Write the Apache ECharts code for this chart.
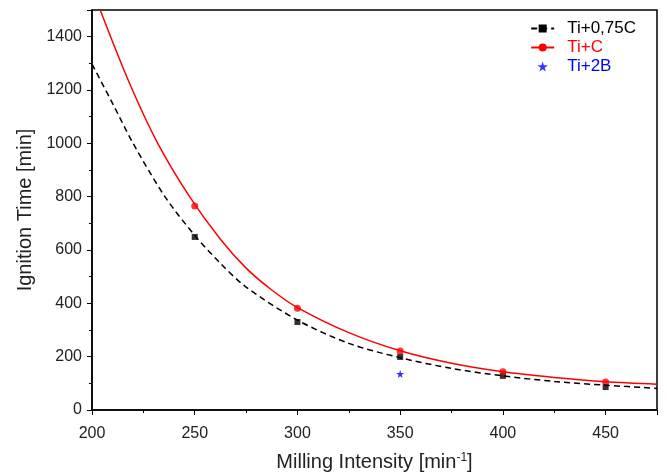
<!DOCTYPE html>
<html>
<head>
<meta charset="utf-8">
<script src="https://cdn.jsdelivr.net/npm/echarts@6/dist/echarts.min.js"></script>
<style>
html, body { margin: 0; padding: 0; background: #fff; }
#chart { width: 667px; height: 472px; }
</style>
</head>
<body>
<div id="chart"></div>
<script>
// measured points
var xData = [250, 300, 350, 400, 450];
var tiC075 = [649, 330, 199, 128, 86];
var tiC = [765, 382, 221, 143, 105];
var ti2B = [[350, 135]];

// fitted curves
var fitC075 = [[200, 1297], [210, 1150], [220, 1000], [235.5, 800], [250, 655], [262.5, 550], [275, 461], [300, 337],
    [325, 250], [350, 196], [375, 156], [400, 128], [425, 107], [450, 93], [475, 81]];
var fitC = [[204, 1500], [218, 1230], [232, 1000], [247.5, 800], [262.5, 640], [275, 532], [287.5, 450], [300, 384],
    [325, 290], [350, 222], [375, 175], [400, 143], [425, 122], [450, 106], [475, 97]];

var xTicks = { min: 200, max: 475, interval: 50 };
var yTicks = { min: 0, max: 1500, interval: 200 };

var star = 'path://M50,0 L61,35 L98,35 L68,57 L79,91 L50,70 L21,91 L32,57 L2,35 L39,35 Z';
var font = 'Liberation Sans, Arial, sans-serif';

function pairs(xs, ys) {
    var arr = [];
    for (var i = 0; i < xs.length; i++) {
        arr.push([xs[i], ys[i]]);
    }
    return arr;
}

var myChart = echarts.init(document.getElementById('chart'));

var option = {
    animation: false,
    textStyle: { fontFamily: font },
    grid: {
        left: 92, right: 10, top: 10, bottom: 62,
        outerBoundsMode: 'none',
        containLabel: false,
        show: true, borderColor: '#000', borderWidth: 1.5
    },
    legend: {
        orient: 'vertical',
        right: 26,
        top: 15,
        itemGap: 2,
        itemWidth: 23,
        itemHeight: 10,
        data: ['Ti+0,75C', 'Ti+C', 'Ti+2B'],
        formatter: function (name) {
            return '{' + (name == 'Ti+C' ? 'r' : (name == 'Ti+2B' ? 'b' : 'k')) + '|' + name + '}';
        },
        textStyle: {
            fontSize: 17,
            rich: {
                k: { color: '#000', fontSize: 17, fontFamily: font, padding: [0, 0, 0, 8] },
                r: { color: '#ff0000', fontSize: 17, fontFamily: font, padding: [0, 0, 0, 8] },
                b: { color: '#0000ff', fontSize: 17, fontFamily: font, padding: [0, 0, 0, 8] }
            }
        }
    },
    xAxis: {
        type: 'value',
        min: xTicks.min,
        max: xTicks.max,
        interval: xTicks.interval,
        name: 'Milling Intensity [min{sup|-1}]',
        nameLocation: 'middle',
        nameGap: 42,
        nameTextStyle: {
            fontSize: 20, color: '#222',
            rich: { sup: { fontSize: 12, verticalAlign: 'top', padding: [0, 0, 9, 0], color: '#222' } }
        },
        axisLine: { lineStyle: { color: '#000', width: 1.5 } },
        axisTick: { inside: false, length: 5, lineStyle: { color: '#000' } },
        minorTick: { show: true, splitNumber: 2, length: 3, lineStyle: { color: '#000' } },
        axisLabel: { fontSize: 16, color: '#222', margin: 16, showMaxLabel: false },
        splitLine: { show: false }
    },
    yAxis: {
        type: 'value',
        min: yTicks.min,
        max: yTicks.max,
        interval: yTicks.interval,
        name: 'Ignition Time [min]',
        nameLocation: 'middle',
        nameGap: 57,
        nameTextStyle: { fontSize: 20, color: '#222' },
        axisLine: { lineStyle: { color: '#000', width: 1.5 } },
        axisTick: { inside: false, length: 5, lineStyle: { color: '#000' } },
        minorTick: { show: true, splitNumber: 2, length: 3, lineStyle: { color: '#000' } },
        axisLabel: {
            fontSize: 16, color: '#222', margin: 10, showMaxLabel: false,
            formatter: function (v) { return String(v); }
        },
        splitLine: { show: false }
    },
    series: [
        {
            name: 'Ti+0,75C',
            type: 'line',
            smooth: 0.3,
            symbol: 'rect',
            symbolSize: 6,
            showSymbol: false,
            lineStyle: { color: '#000', width: 1.5, type: [6, 4] },
            itemStyle: { color: '#000' },
            data: fitC075
        },
        {
            name: 'Ti+C',
            type: 'line',
            smooth: 0.3,
            symbol: 'circle',
            symbolSize: 6,
            showSymbol: false,
            lineStyle: { color: '#ff0000', width: 1.5 },
            itemStyle: { color: '#ff0000' },
            data: fitC
        },
        {
            name: 'Ti+0,75C',
            type: 'scatter',
            symbol: 'rect',
            symbolSize: 6,
            itemStyle: { color: '#000' },
            data: pairs(xData, tiC075)
        },
        {
            name: 'Ti+C',
            type: 'scatter',
            symbol: 'circle',
            symbolSize: 7,
            itemStyle: { color: '#ff0000' },
            data: pairs(xData, tiC)
        },
        {
            name: 'Ti+2B',
            type: 'scatter',
            symbol: star,
            symbolSize: 8,
            itemStyle: { color: '#0000ff' },
            data: ti2B
        }
    ]
};

myChart.setOption(option);
</script>
</body>
</html>
